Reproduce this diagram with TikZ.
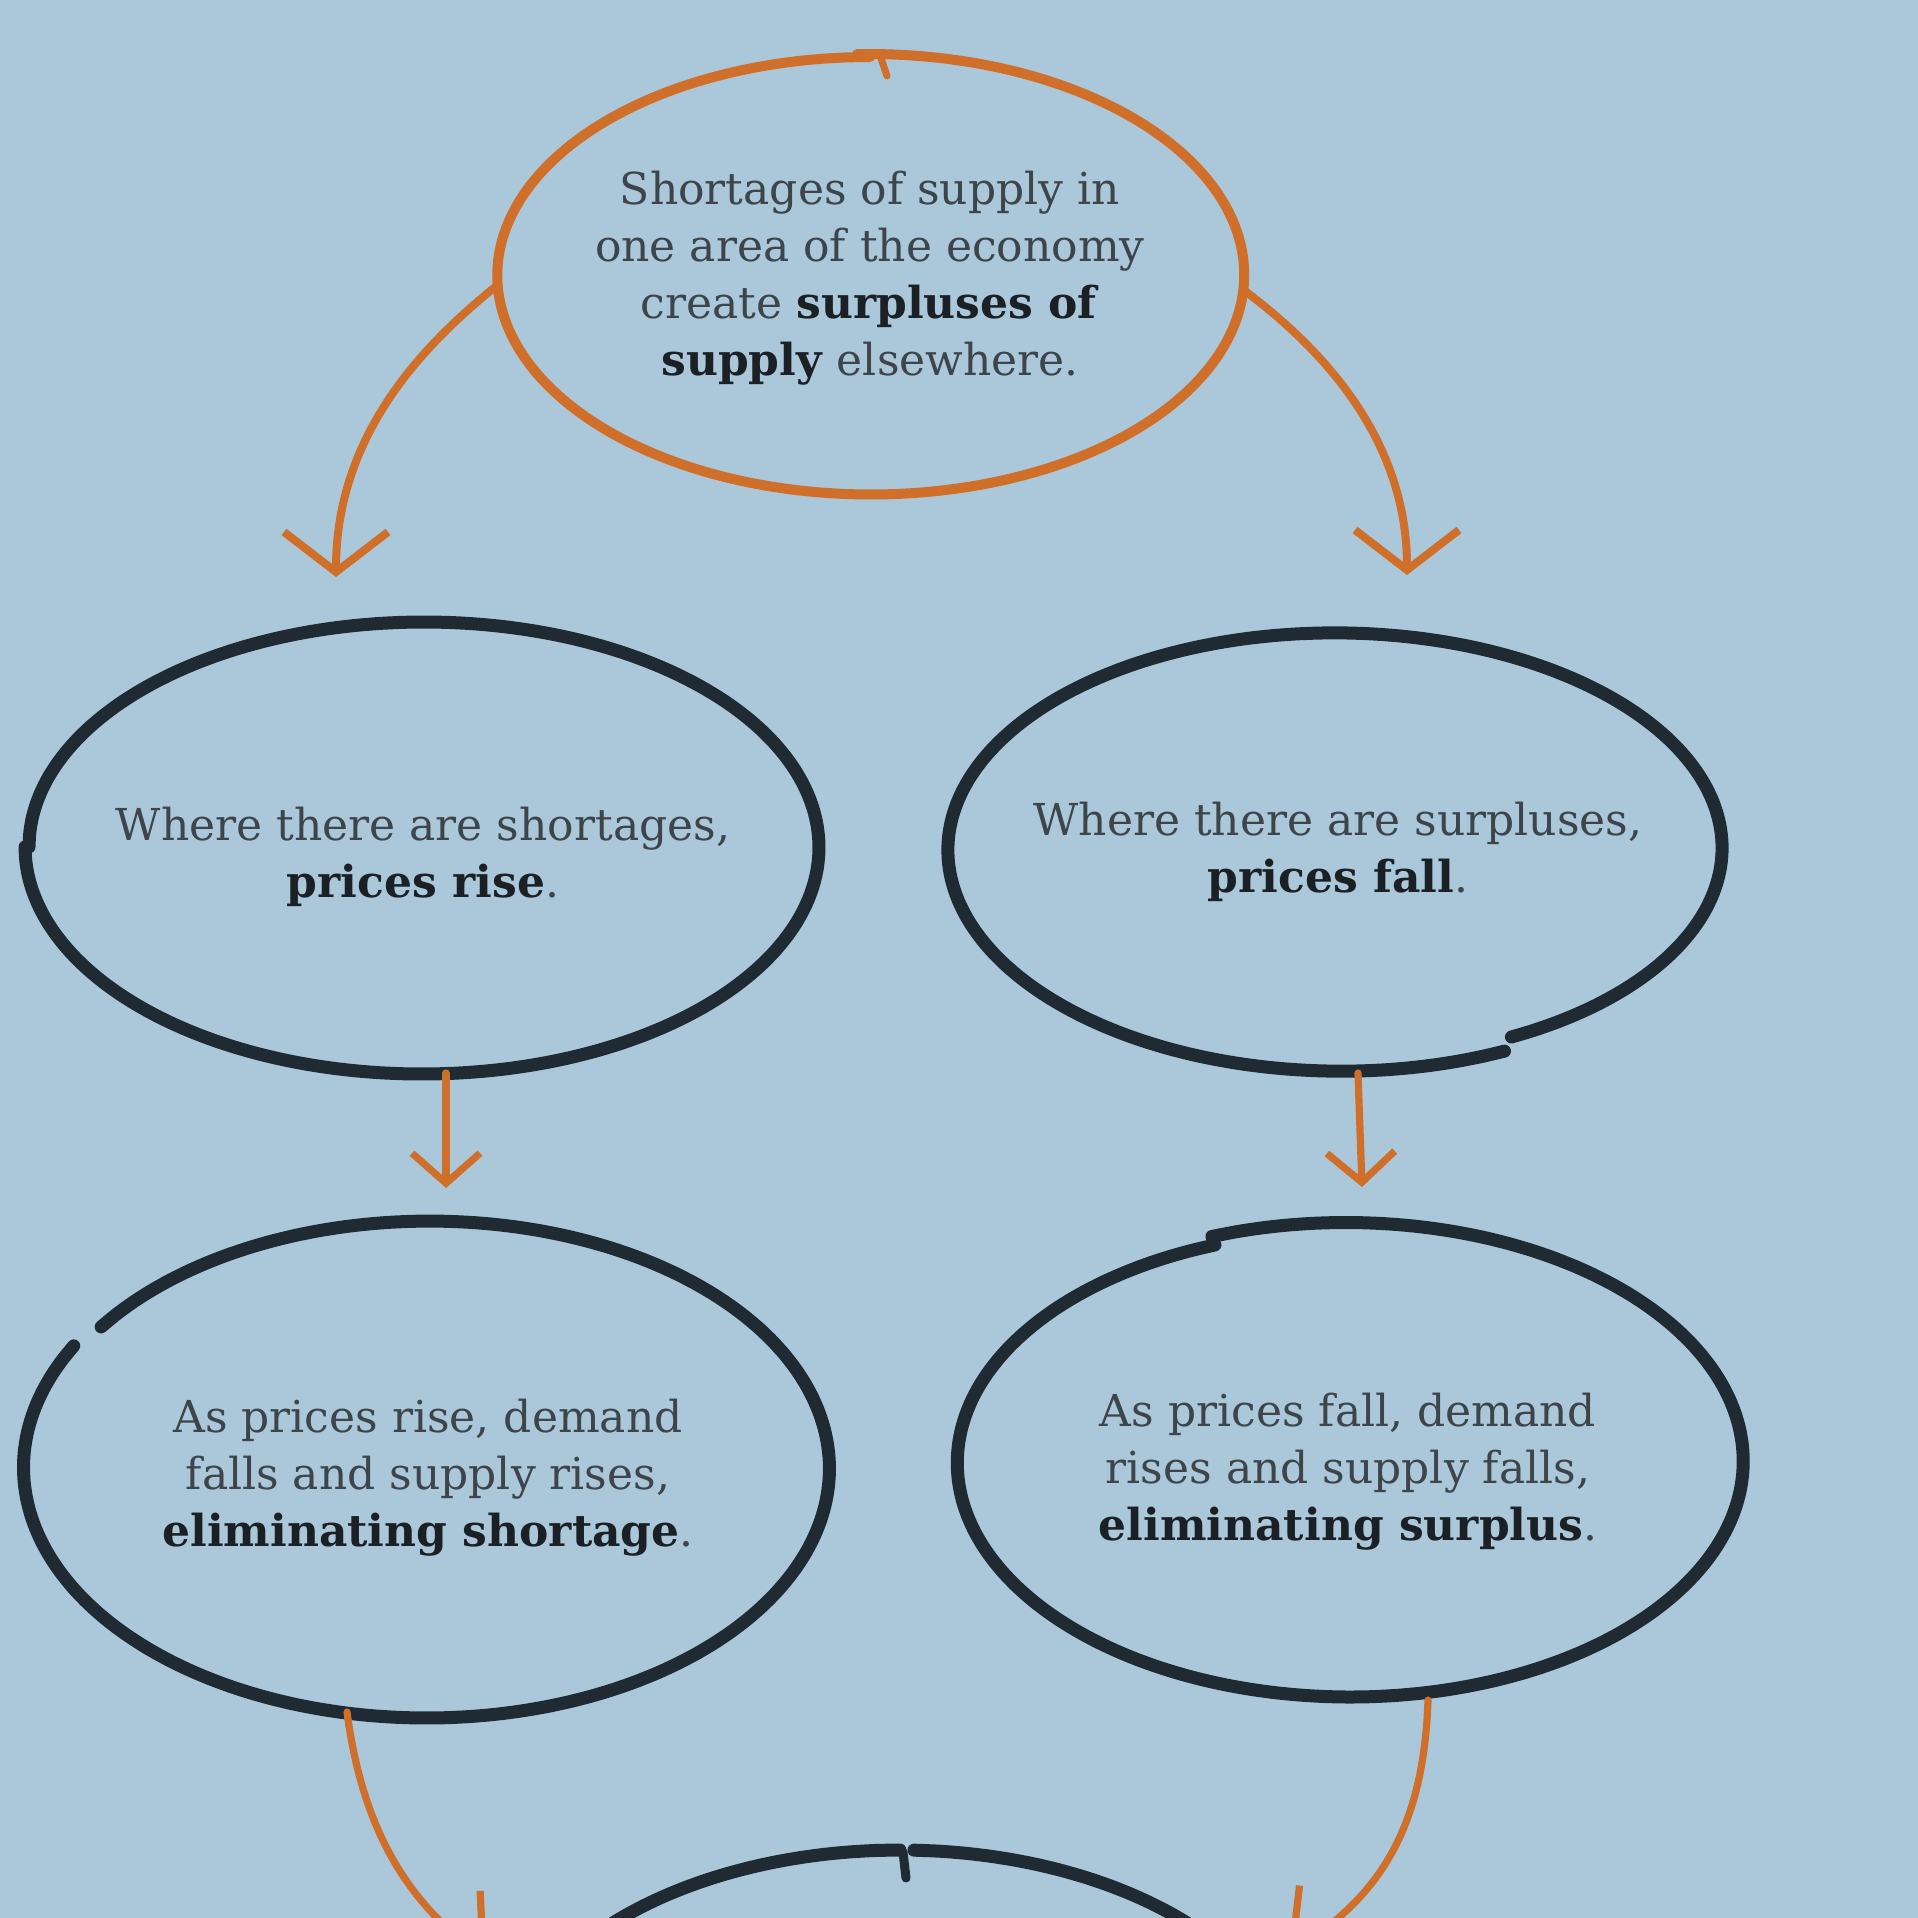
\documentclass[tikz,border=0pt]{standalone}
\usepackage{fontspec}
\setmainfont{DejaVu Serif}
\usetikzlibrary{arrows.meta,shapes.geometric,calc}

\definecolor{paper}{HTML}{ABC8DA}
\definecolor{rust}{HTML}{CF6F2A}
\definecolor{ink}{HTML}{1F2A32}
\definecolor{txt}{HTML}{3E454A}
\definecolor{txtb}{HTML}{1B2024}

% bold key phrase
\newcommand{\keyword}[1]{\textcolor{txtb}{\textbf{#1}}}

% hand-drawn loop: centre x, centre y, radius x, radius y, start angle, sweep, drift, style
\newcommand{\handloop}[8]{%
  \draw[#8] plot[smooth, domain=#5:#5+#6, samples=100, variable=\t]
    ({#1+(#3+#7*(\t-#5)/#6)*cos(\t)},{#2+(#4+#7*(\t-#5)/#6)*sin(\t)});}

\tikzset{
  bubble/.style={ellipse, inner sep=0pt, align=center, text=txt,
    font=\fontsize{22}{28.5}\selectfont},
  rustline/.style={draw=rust, line width=5pt, line cap=round, line join=round},
  inkline/.style={draw=ink, line width=6.5pt, line cap=round, line join=round},
  link/.style={draw=rust, line width=4pt, line cap=round, line join=round,
    -{Straight Barb[length=20pt,width=52pt,line width=4pt]}},
  shortlink/.style={draw=rust, line width=3.6pt, line cap=round, line join=round,
    -{Straight Barb[length=15pt,width=34pt,line width=3.6pt]}},
  lowlink/.style={draw=rust, line width=3.6pt, line cap=round, line join=round,
    -{Straight Barb[length=20pt,width=52pt,line width=3.6pt]}},
}

\begin{document}
\begin{tikzpicture}[x=0.5pt, y=-0.5pt]
  \useasboundingbox (0,0) rectangle (1918,1918);
  \fill[paper] (0,0) rectangle (1918,1918);
  \begin{scope}
    \clip (0,0) rectangle (1918,1918);

    % outlines
    \handloop{870}{275}{375}{221}{268}{362}{-3}{rustline}
    \draw[rust, line width=3.5pt, line cap=round] (881,58) -- (887,76);
    \handloop{423}{847}{394}{224}{180}{360}{4}{inkline}
    \handloop{1338}{849}{394}{223}{65}{358}{-12}{inkline}
    \handloop{428}{1468}{399}{246}{215}{354}{6}{inkline}
    \handloop{1348}{1462}{398}{240}{250}{360}{-9}{inkline}
    \handloop{900}{2090}{400}{240}{272}{358}{0}{inkline}
    \draw[ink, line width=4.5pt, line cap=round] (903,1852) -- (906,1878);

    % texts
    \node[bubble, minimum width=375pt, minimum height=221pt] (top) at (870,278)
      {Shortages of supply in\\one area of the economy\\create \keyword{surpluses of}\\\keyword{supply} elsewhere.};
    \node[bubble, minimum width=394pt, minimum height=224pt] (lm) at (423,857)
      {Where there are shortages,\\\keyword{prices rise}.};
    \node[bubble, minimum width=394pt, minimum height=223pt] (rm) at (1338,852)
      {Where there are surpluses,\\\keyword{prices fall}.};
    \node[bubble, minimum width=399pt, minimum height=246pt] (lb) at (428,1478)
      {As prices rise, demand\\falls and supply rises,\\\keyword{eliminating shortage}.};
    \node[bubble, minimum width=398pt, minimum height=240pt] (rb) at (1348,1472)
      {As prices fall, demand\\rises and supply falls,\\\keyword{eliminating surplus}.};
    \node[bubble, minimum width=400pt, minimum height=240pt] (bot) at (900,2090) {};

    % arrow ends
    \coordinate (tipTL) at ($(lm.center)+(-87,-280)$);
    \coordinate (tipTR) at ($(rm.center)+(69,-277)$);
    \coordinate (tipML) at ($(lb.center)+(18,-290)$);
    \coordinate (tipMR) at ($(rb.center)+(14,-285)$);
    \coordinate (tipBL) at ($(bot.center)+(-413,-131)$);
    \coordinate (tipBR) at ($(bot.center)+(388,-137)$);

    % connectors
    \draw[link] ($(top.center)+(-375,9)$) .. controls (430,340) and (336,430) .. (tipTL);
    \draw[link] ($(top.center)+(375,13)$) .. controls (1310,340) and (1407,430) .. (tipTR);
    \draw[shortlink] ($(lm.center)+(23,216)$) -- (tipML);
    \draw[shortlink] ($(rm.center)+(20,221)$) -- (tipMR);
    \draw[lowlink] ($(lb.center)+(-81,234)$) .. controls (360,1810) and (395,1895) .. (tipBL);
    \draw[lowlink] ($(rb.center)+(80,228)$) .. controls (1424,1820) and (1385,1895) .. (tipBR);
  \end{scope}
\end{tikzpicture}
\end{document}
